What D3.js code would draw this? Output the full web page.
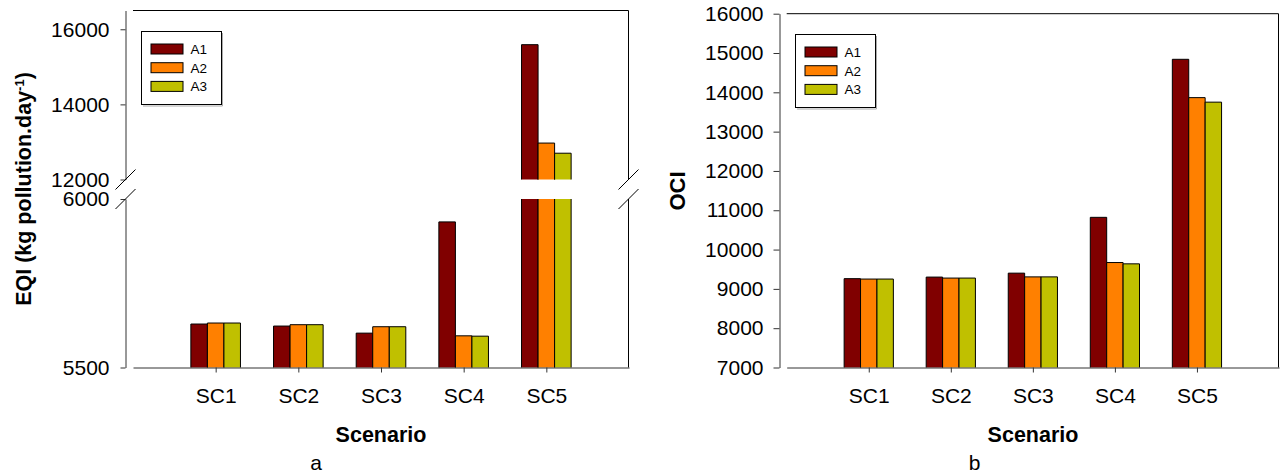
<!DOCTYPE html>
<html>
<head>
<meta charset="utf-8">
<script src="https://cdn.jsdelivr.net/npm/d3@7"></script>
<style>
  body { margin: 0; background: #fff; }
  text { font-family: "Liberation Sans", Arial, sans-serif; fill: #000; }
</style>
</head>
<body>
<script>
// categories and series
var scenarios = ["SC1", "SC2", "SC3", "SC4", "SC5"];
var series = ["A1", "A2", "A3"];
var colors = ["#800000", "#ff8000", "#c0c000"];

// panel a: EQI (broken axis)
var eqiA1 = [5629, 5623, 5602, 5932, 15590];
var eqiA2 = [5632, 5627, 5621, 5594, 12970];
var eqiA3 = [5632, 5627, 5621, 5593, 12700];
var eqiTicksLow = [5500, 6000];
var eqiTicksHigh = [12000, 14000, 16000];

// panel b: OCI
var ociA1 = [9260, 9300, 9400, 10820, 14840];
var ociA2 = [9250, 9275, 9305, 9670, 13865];
var ociA3 = [9250, 9275, 9305, 9637, 13750];
var ociTicks = [7000, 8000, 9000, 10000, 11000, 12000, 13000, 14000, 15000, 16000];

var svg = d3.select("body").append("svg")
    .attr("width", 1280)
    .attr("height", 475);

function xScales(x0, x1) {
  var x = d3.scalePoint().domain(scenarios).range([x0, x1]).padding(1);
  var step = x.step();
  var xi = d3.scaleBand().domain(series).range([-0.3 * step, 0.3 * step]);
  return {x: x, xi: xi};
}

function barPiece(g, x, w, yt, yb, color, top) {
  g.append("rect")
      .attr("x", x).attr("y", yt)
      .attr("width", w).attr("height", yb - yt)
      .attr("fill", color);
  var d = top
    ? "M" + x + "," + yb + "V" + yt + "H" + (x + w) + "V" + yb
    : "M" + x + "," + yb + "V" + yt + "M" + (x + w) + "," + yt + "V" + yb;
  g.append("path").attr("d", d).attr("fill", "none").attr("stroke", "#000").attr("stroke-width", 1);
}

function styleAxis(sel) {
  sel.selectAll("path, line").attr("stroke", "#333");
  sel.selectAll("text").style("font-size", "21px").style("font-family", "Liberation Sans, Arial, sans-serif");
}

function xAxis(g, x, y0) {
  g.append("g")
      .attr("transform", "translate(0," + y0 + ")")
      .call(d3.axisBottom(x).tickSizeInner(5).tickSizeOuter(0).tickPadding(16))
      .call(styleAxis);
}

function legend(g, lx, ly) {
  var lg = g.append("g").attr("transform", "translate(" + lx + "," + ly + ")");
  lg.append("path").attr("d", "M81,1.5V74.5H1.5").attr("fill", "none").attr("stroke", "#aaa");
  lg.append("rect").attr("x", 0).attr("y", 0).attr("width", 80).attr("height", 73)
      .attr("fill", "#fff").attr("stroke", "#000");
  series.forEach(function(s, j) {
    lg.append("rect").attr("x", 9.5).attr("y", 12.5 + j * 18.7).attr("width", 32).attr("height", 10)
        .attr("fill", colors[j]).attr("stroke", "#000");
    lg.append("text").attr("x", 49).attr("y", 17.5 + j * 18.7).attr("dy", "0.36em")
        .style("font-size", "13.5px").text(s);
  });
}

function breakMark(g, x, y) {
  g.append("line").attr("x1", x - 10).attr("y1", y + 10).attr("x2", x + 10).attr("y2", y - 10)
      .attr("stroke", "#000");
}

// ---------- panel a ----------
(function() {
  var g = svg.append("g");
  var top = 10.5, bottom = 367.5, cutHi = 179.5, cutLo = 199;
  var s = xScales(133, 629);
  var yHi = d3.scaleLinear().domain([12000, 16500]).range([cutHi, top]);
  var yLo = d3.scaleLinear().domain([5500, 6000]).range([bottom, cutLo]);
  var vals = [eqiA1, eqiA2, eqiA3];

  scenarios.forEach(function(sc, i) {
    series.forEach(function(se, j) {
      var v = vals[j][i];
      var x = s.x(sc) + s.xi(se), w = s.xi.bandwidth();
      if (v <= 6000) {
        barPiece(g, x, w, yLo(v), yLo(5500), colors[j], true);
      } else {
        barPiece(g, x, w, yLo(6000), yLo(5500), colors[j], false);
        barPiece(g, x, w, yHi(v), yHi(12000), colors[j], true);
      }
    });
  });

  // frame
  g.append("path").attr("d", "M133,10.5H628.5V" + cutHi + "M628.5," + cutLo + "V" + bottom)
      .attr("fill", "none").attr("stroke", "#000");
  breakMark(g, 628.5, cutHi);
  breakMark(g, 628.5, cutLo);

  g.append("g").attr("transform", "translate(125.5,0)")
      .call(d3.axisLeft(yHi).tickValues(eqiTicksHigh).tickSizeInner(5).tickSizeOuter(0).tickPadding(11).tickFormat(d3.format("d")))
      .call(styleAxis);
  g.append("g").attr("transform", "translate(125.5,0)")
      .call(d3.axisLeft(yLo).tickValues(eqiTicksLow).tickSizeInner(5).tickSizeOuter(0).tickPadding(11).tickFormat(d3.format("d")))
      .call(styleAxis);
  breakMark(g, 125.5, cutHi);
  breakMark(g, 125.5, cutLo);

  xAxis(g, s.x, bottom);
  legend(g, 141.5, 31.5);

  var t = g.append("text")
      .attr("transform", "translate(31,189) rotate(-90)")
      .attr("text-anchor", "middle")
      .style("font-size", "21.5px").style("font-weight", "bold");
  t.append("tspan").text("EQI (kg pollution.day");
  t.append("tspan").attr("baseline-shift", "super").style("font-size", "13px").text("-1");
  t.append("tspan").text(")");

  g.append("text").attr("x", 381).attr("y", 441.5).attr("text-anchor", "middle")
      .style("font-size", "21.5px").style("font-weight", "bold").text("Scenario");
  g.append("text").attr("x", 316).attr("y", 470).attr("text-anchor", "middle")
      .style("font-size", "21px").text("a");
})();

// ---------- panel b ----------
(function() {
  var g = svg.append("g");
  var top = 13.7, bottom = 367.5;
  var s = xScales(786.7, 1279);
  var y = d3.scaleLinear().domain([7000, 16000]).range([bottom, top]);
  var vals = [ociA1, ociA2, ociA3];

  scenarios.forEach(function(sc, i) {
    series.forEach(function(se, j) {
      var v = vals[j][i];
      var x = s.x(sc) + s.xi(se), w = s.xi.bandwidth();
      barPiece(g, x, w, y(v), y(7000), colors[j], true);
    });
  });

  g.append("path").attr("d", "M786.7," + top + "H1278.5V" + bottom)
      .attr("fill", "none").attr("stroke", "#000");

  g.append("g").attr("transform", "translate(779.5,0)")
      .call(d3.axisLeft(y).tickValues(ociTicks).tickSizeInner(6).tickSizeOuter(0).tickPadding(10).tickFormat(d3.format("d")))
      .call(styleAxis);

  xAxis(g, s.x, bottom);
  legend(g, 795.5, 34.5);

  g.append("text")
      .attr("transform", "translate(685,191) rotate(-90)")
      .attr("text-anchor", "middle")
      .style("font-size", "22px").style("font-weight", "bold").text("OCI");

  g.append("text").attr("x", 1033).attr("y", 441.5).attr("text-anchor", "middle")
      .style("font-size", "21.5px").style("font-weight", "bold").text("Scenario");
  g.append("text").attr("x", 974.5).attr("y", 470).attr("text-anchor", "middle")
      .style("font-size", "21px").text("b");
})();
</script>
</body>
</html>
